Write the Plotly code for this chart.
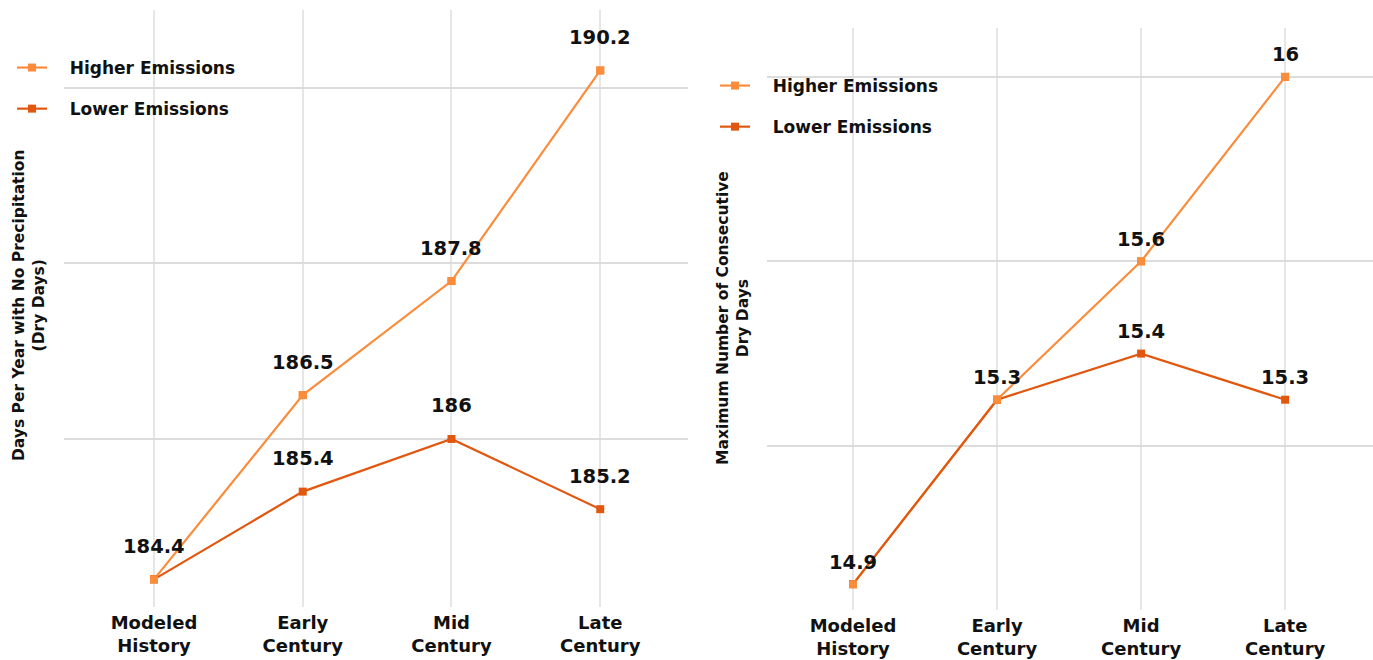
import plotly.graph_objects as go

categories = ["Modeled<br>History", "Early<br>Century", "Mid<br>Century", "Late<br>Century"]

dry_days_higher = [184.4, 186.5, 187.8, 190.2]
dry_days_lower = [184.4, 185.4, 186.0, 185.2]

cdd_higher = [14.9, 15.3, 15.6, 16.0]
cdd_lower = [14.9, 15.3, 15.4, 15.3]

series_names = ["Higher Emissions", "Lower Emissions"]
colors = {"Higher Emissions": "#FB8C3C", "Lower Emissions": "#E2570F"}

left_title = "Days Per Year with No Precipitation<br>(Dry Days)"
right_title = "Maximum Number of Consecutive<br>Dry Days"

FONT = "DejaVu Sans"
W, H = 1373, 660
PAD = "\u00a0\u00a0\u00a0"

fig = go.Figure()

panels = [
    dict(xa="x", ya="y", leg="legend", hi=dry_days_higher, lo=dry_days_lower, shift=33),
    dict(xa="x2", ya="y2", leg="legend2", hi=cdd_higher, lo=cdd_lower, shift=22),
]

for p in panels:
    for name, vals in ((series_names[0], p["hi"]), (series_names[1], p["lo"])):
        fig.add_trace(go.Scatter(
            x=categories, y=vals, name=PAD + name, mode="lines+markers",
            xaxis=p["xa"], yaxis=p["ya"], legend=p["leg"], legendgroup=name,
            line=dict(color=colors[name], width=2.2),
            marker=dict(symbol="square", size=8, color=colors[name]),
        ))
    # light markers on top at shared points
    fig.add_trace(go.Scatter(
        x=categories, y=p["hi"], mode="markers", showlegend=False,
        xaxis=p["xa"], yaxis=p["ya"], hoverinfo="skip",
        marker=dict(symbol="square", size=8, color=colors[series_names[0]]),
    ))

annotations = []
for p in panels:
    for i, c in enumerate(categories):
        vals = [p["hi"][i]]
        if p["lo"][i] != p["hi"][i]:
            vals.append(p["lo"][i])
        for v in vals:
            annotations.append(dict(
                x=c, y=v, xref=p["xa"], yref=p["ya"], text=f"{v:g}",
                showarrow=False, yshift=p["shift"], yanchor="middle",
                font=dict(family=FONT, size=19.5, color="#111111", weight=700),
            ))

annotations.append(dict(
    text=left_title, x=29 / W, y=1 - 305 / H, xref="paper", yref="paper",
    textangle=-90, showarrow=False, xanchor="center", yanchor="middle",
    font=dict(family=FONT, size=15.5, color="#111111", weight=700),
))
annotations.append(dict(
    text=right_title, x=733 / W, y=1 - 318 / H, xref="paper", yref="paper",
    textangle=-90, showarrow=False, xanchor="center", yanchor="middle",
    font=dict(family=FONT, size=15.5, color="#111111", weight=700),
))

xcommon = dict(
    type="category", showgrid=True, gridcolor="#E6E6E6", gridwidth=2,
    zeroline=False, showline=False, ticks="", ticklabelstandoff=3,
    tickfont=dict(family=FONT, size=18, color="#111111", weight=700),
)
ycommon = dict(
    showgrid=True, gridcolor="#DCDCDC", gridwidth=2, zeroline=False,
    showline=False, showticklabels=False, ticks="",
)

legend_font = dict(family=FONT, size=17, color="#111111", weight=700)

fig.update_layout(
    width=W, height=H,
    margin=dict(l=0, r=0, t=0, b=0),
    paper_bgcolor="white", plot_bgcolor="white",
    xaxis=dict(xcommon, domain=[64 / W, 688 / W], range=[-0.605, 3.59], anchor="y"),
    yaxis=dict(ycommon, domain=[1 - 607 / H, 1 - 10 / H], range=[184.085, 190.889],
               dtick=2, tick0=186, anchor="x"),
    xaxis2=dict(xcommon, domain=[767 / W, 1.0], range=[-0.597, 3.61], anchor="y2"),
    yaxis2=dict(ycommon, domain=[1 - 610 / H, 1 - 28 / H], range=[14.844, 16.106],
                dtick=0.4, tick0=15.2, anchor="x2"),
    legend=dict(x=12 / W, y=1 - 50 / H, xanchor="left", yanchor="top",
                bgcolor="rgba(0,0,0,0)", itemwidth=30, tracegroupgap=16,
                font=legend_font),
    legend2=dict(x=715 / W, y=1 - 68 / H, xanchor="left", yanchor="top",
                 bgcolor="rgba(0,0,0,0)", itemwidth=30, tracegroupgap=16,
                 font=legend_font),
    annotations=annotations,
    showlegend=True,
)

fig.write_html("out.html")
